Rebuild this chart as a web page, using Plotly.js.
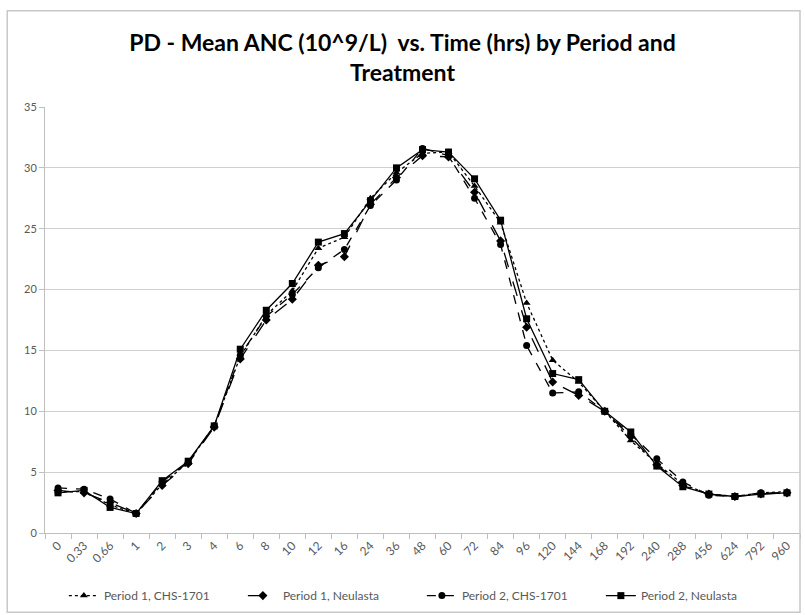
<!DOCTYPE html>
<html>
<head>
<meta charset="utf-8">
<script src="https://cdn.plot.ly/plotly-3.0.1.min.js"></script>
<style>html,body{margin:0;padding:0;background:#fff;}#chart{width:805px;height:615px;}</style>
</head>
<body>
<div id="chart"></div>
<script>
const categories = ['0','0.33','0.66','1','2','3','4','6','8','10','12','16','24','36','48','60','72','84','96','120','144','168','192','240','288','456','624','792','960'];
const p1Chs = [3.4, 3.4, 2.3, 1.6, 4.0, 5.8, 8.8, 14.5, 17.9, 19.9, 23.4, 24.3, 27.5, 29.6, 31.2, 31.3, 28.5, 25.5, 18.9, 14.2, 12.4, 10.0, 7.6, 5.7, 4.0, 3.2, 3.0, 3.3, 3.4];
const p1Neu = [3.5, 3.3, 2.5, 1.6, 3.9, 5.7, 8.7, 14.3, 17.5, 19.2, 22.0, 22.7, 27.0, 29.2, 31.0, 30.9, 28.0, 24.0, 16.9, 12.4, 11.3, 10.0, 7.9, 5.6, 3.9, 3.2, 3.0, 3.2, 3.3];
const p2Chs = [3.7, 3.6, 2.8, 1.6, 4.2, 5.8, 8.8, 14.6, 17.8, 19.6, 21.8, 23.3, 26.9, 29.0, 31.6, 31.0, 27.5, 23.7, 15.4, 11.5, 11.6, 10.0, 8.1, 6.1, 4.2, 3.1, 3.0, 3.3, 3.3];
const p2Neu = [3.3, 3.5, 2.1, 1.6, 4.3, 5.9, 8.8, 15.1, 18.3, 20.5, 23.9, 24.6, 27.3, 30.0, 31.5, 31.3, 29.1, 25.7, 17.6, 13.1, 12.6, 10.0, 8.3, 5.5, 3.8, 3.2, 3.0, 3.2, 3.3];
const seriesNames = ['Period 1, CHS-1701', 'Period 1, Neulasta', 'Period 2, CHS-1701', 'Period 2, Neulasta'];

const styles = [
  {dash: 'dot', symbol: 'triangle-up'},
  {dash: 'longdash', symbol: 'diamond'},
  {dash: 'dash', symbol: 'circle'},
  {dash: 'solid', symbol: 'square'}
];
const allSeries = [p1Chs, p1Neu, p2Chs, p2Neu];
const traces = allSeries.map((vals, i) => ({
  type: 'scatter', mode: 'lines+markers',
  x: categories, y: vals, name: seriesNames[i],
  line: {color: '#000', width: 1.3, dash: styles[i].dash},
  marker: {color: '#000', symbol: styles[i].symbol, size: 7}
}));

const font = 'Lato, "Liberation Sans", sans-serif';
const layout = {
  width: 805, height: 615,
  margin: {l: 45, r: 5, t: 107, b: 80},
  paper_bgcolor: '#fff', plot_bgcolor: '#fff',
  font: {family: font, color: '#595959', size: 11},
  title: {text: 'PD - Mean ANC (10^9/L)  vs. Time (hrs) by Period and<br>Treatment',
    font: {family: font, size: 23, color: '#000', weight: 'bold'},
    x: 0.5, xanchor: 'center', y: 0.917, yanchor: 'middle'},
  showlegend: true,
  legend: {orientation: 'h', x: 0.025, xanchor: 'left', y: -0.147, yanchor: 'middle',
    font: {family: font, size: 12, color: '#595959'}, traceorder: 'normal', entrywidth: 134},
  xaxis: {type: 'category', range: [-0.5, 28.5], showgrid: false, automargin: false,
    showline: true, linecolor: '#bfbfbf', linewidth: 1,
    ticks: 'outside', tickson: 'boundaries', ticklen: 5, tickcolor: '#bfbfbf',
    tickangle: -45, tickfont: {size: 12, color: '#595959'}, zeroline: false},
  yaxis: {range: [0, 35], dtick: 5, showgrid: true, gridcolor: '#d0d0d0', gridwidth: 1, automargin: false,
    showline: true, linecolor: '#bfbfbf', ticks: 'outside', ticklen: 5, tickcolor: '#bfbfbf',
    tickfont: {size: 11, color: '#595959'}, zeroline: false},
  shapes: [{type: 'rect', xref: 'paper', yref: 'paper',
    x0: -0.05, x1: 1.0, y0: -0.186, y1: 1.226,
    line: {color: '#c8c8c8', width: 1.5}, fillcolor: 'rgba(0,0,0,0)'}]
};
Plotly.newPlot('chart', traces, layout, {displayModeBar: false, staticPlot: true});
</script>
</body>
</html>
